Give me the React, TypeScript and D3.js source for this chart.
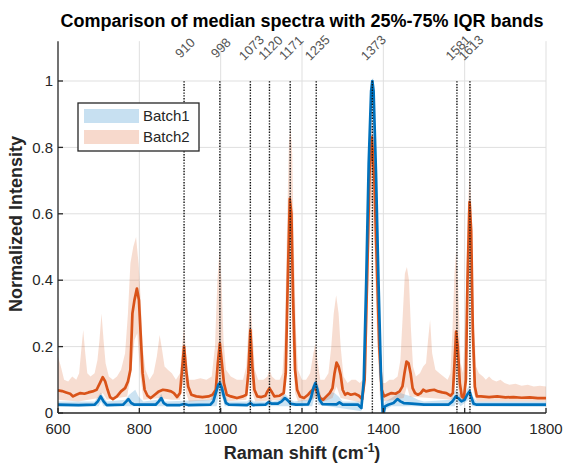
import React from 'react';
import * as d3 from 'd3';

type P = [number, number];

const W = 566, H = 466;
const PLOT = { left: 58, right: 546, top: 40, bottom: 413 };
const X_DOMAIN = [600, 1800];
const Y_DOMAIN = [0, 1.12];

const titleText = 'Comparison of median spectra with 25%-75% IQR bands';
const xTicks = [600, 800, 1000, 1200, 1400, 1600, 1800];
const xTickLabels = ['600', '800', '1000', '1200', '1400', '1600', '1800'];
const yTicks = [0, 0.2, 0.4, 0.6, 0.8, 1];
const yTickLabels = ['0', '0.2', '0.4', '0.6', '0.8', '1'];
const peakPositions = [910, 998, 1073, 1120, 1171, 1235, 1373, 1581, 1613];
const peakLabels = ['910', '998', '1073', '1120', '1171', '1235', '1373', '1581', '1613'];
const peakLineTop = 1;
const peakLabelY = 1.1;
const seriesNames = ['Batch1', 'Batch2'];
const seriesColors = ['#0072BD', '#D95319'];

// Batch2 (orange) median
const batch2Median: P[] = [
  [600,0.068],[610,0.066],[620,0.062],[630,0.058],[637,0.05],[645,0.055],[655,0.06],[665,0.058],[675,0.062],[685,0.065],
  [695,0.07],[703,0.09],[710,0.108],[716,0.095],[722,0.07],[728,0.048],[735,0.042],[745,0.05],[755,0.065],[765,0.075],
  [772,0.095],[778,0.13],[783,0.3],[788,0.34],[794,0.375],[799,0.34],[804,0.22],[808,0.12],[813,0.07],[820,0.052],
  [828,0.045],[838,0.055],[848,0.065],[858,0.07],[868,0.068],[878,0.065],[885,0.06],[893,0.048],[900,0.06],[905,0.13],
  [910,0.2],[915,0.13],[920,0.08],[928,0.055],[940,0.05],[955,0.048],[970,0.05],[980,0.055],[988,0.07],[993,0.15],
  [998,0.21],[1003,0.15],[1008,0.09],[1015,0.055],[1025,0.05],[1040,0.045],[1055,0.05],[1063,0.055],[1068,0.12],[1073,0.25],
  [1078,0.14],[1083,0.07],[1090,0.05],[1100,0.048],[1110,0.052],[1115,0.065],[1120,0.075],[1125,0.065],[1132,0.05],[1145,0.052],
  [1155,0.06],[1160,0.12],[1165,0.4],[1170,0.645],[1174,0.6],[1178,0.35],[1183,0.13],[1188,0.07],[1195,0.05],[1205,0.045],
  [1215,0.055],[1222,0.065],[1230,0.075],[1235,0.068],[1240,0.058],[1245,0.045],[1252,0.04],[1260,0.05],[1268,0.06],[1275,0.075],
  [1280,0.12],[1285,0.152],[1290,0.14],[1295,0.115],[1300,0.07],[1306,0.055],[1312,0.06],[1320,0.055],[1330,0.058],[1340,0.052],
  [1348,0.042],[1354,0.1],[1360,0.4],[1366,0.72],[1372,0.83],[1378,0.7],[1384,0.45],[1390,0.2],[1396,0.07],[1402,0.05],
  [1410,0.055],[1420,0.06],[1430,0.058],[1440,0.065],[1447,0.08],[1452,0.12],[1457,0.155],[1462,0.15],[1467,0.12],[1472,0.075],
  [1478,0.06],[1485,0.055],[1492,0.06],[1498,0.07],[1505,0.065],[1515,0.068],[1525,0.07],[1535,0.065],[1545,0.062],[1555,0.06],
  [1565,0.052],[1571,0.06],[1575,0.15],[1579,0.245],[1583,0.2],[1588,0.09],[1593,0.05],[1598,0.045],[1603,0.1],[1607,0.4],
  [1612,0.635],[1616,0.55],[1620,0.25],[1625,0.08],[1630,0.05],[1640,0.05],[1660,0.048],[1680,0.05],[1700,0.047],[1720,0.048],
  [1740,0.046],[1760,0.047],[1780,0.045],[1800,0.045],
];

const batch2Upper: P[] = [
  [600,0.17],[607,0.14],[615,0.1],[625,0.095],[635,0.11],[645,0.1],[652,0.12],[658,0.2],[662,0.25],[667,0.18],
  [672,0.12],[680,0.11],[690,0.12],[697,0.16],[702,0.22],[707,0.3],[712,0.22],[717,0.15],[725,0.11],[735,0.1],
  [745,0.11],[755,0.13],[765,0.18],[772,0.3],[778,0.45],[785,0.5],[792,0.53],[798,0.45],[803,0.35],[808,0.2],
  [815,0.13],[825,0.1],[835,0.12],[843,0.17],[850,0.235],[856,0.19],[862,0.14],[870,0.13],[880,0.12],[890,0.1],
  [900,0.12],[905,0.2],[910,0.26],[915,0.18],[922,0.1],[935,0.1],[950,0.105],[965,0.1],[978,0.11],[986,0.2],
  [992,0.4],[997,0.49],[1002,0.4],[1007,0.22],[1013,0.13],[1025,0.11],[1040,0.1],[1055,0.1],[1063,0.14],[1068,0.25],
  [1073,0.34],[1078,0.25],[1084,0.13],[1092,0.1],[1105,0.1],[1115,0.11],[1120,0.13],[1126,0.11],[1135,0.1],[1145,0.1],
  [1152,0.12],[1158,0.25],[1163,0.55],[1168,0.82],[1172,0.86],[1176,0.78],[1180,0.5],[1185,0.25],[1190,0.13],[1200,0.1],
  [1210,0.1],[1220,0.12],[1228,0.18],[1233,0.21],[1238,0.16],[1245,0.1],[1255,0.1],[1265,0.12],[1272,0.2],[1278,0.3],
  [1284,0.355],[1290,0.3],[1295,0.2],[1302,0.11],[1312,0.09],[1322,0.1],[1332,0.1],[1342,0.09],[1350,0.1],[1356,0.25],
  [1362,0.6],[1368,0.84],[1373,0.88],[1379,0.74],[1385,0.5],[1391,0.22],[1398,0.09],[1405,0.09],[1415,0.1],[1425,0.1],
  [1435,0.11],[1442,0.16],[1448,0.3],[1453,0.42],[1458,0.44],[1463,0.4],[1468,0.25],[1473,0.14],[1480,0.11],[1490,0.12],
  [1498,0.14],[1505,0.15],[1510,0.22],[1515,0.28],[1520,0.18],[1528,0.13],[1538,0.12],[1548,0.11],[1558,0.1],[1565,0.12],
  [1570,0.25],[1575,0.42],[1579,0.49],[1584,0.38],[1590,0.15],[1596,0.12],[1602,0.3],[1607,0.6],[1612,0.72],[1617,0.62],
  [1622,0.3],[1628,0.14],[1635,0.12],[1645,0.11],[1652,0.1],[1660,0.11],[1668,0.1],[1678,0.095],[1688,0.1],[1698,0.09],
  [1710,0.085],[1725,0.088],[1740,0.082],[1755,0.085],[1770,0.08],[1785,0.082],[1800,0.08],
];

const batch2Lower: P[] = [
  [600,0.04],[650,0.035],[700,0.045],[710,0.06],[720,0.04],[770,0.05],[780,0.12],[788,0.22],[795,0.24],[802,0.12],
  [810,0.04],[850,0.045],[880,0.04],[900,0.04],[906,0.08],[910,0.11],[915,0.06],[922,0.035],[985,0.04],[992,0.08],
  [998,0.11],[1004,0.06],[1010,0.035],[1063,0.04],[1068,0.08],[1073,0.13],[1078,0.06],[1085,0.035],[1155,0.04],[1162,0.15],
  [1168,0.4],[1172,0.42],[1177,0.2],[1183,0.06],[1190,0.035],[1225,0.04],[1235,0.05],[1245,0.03],[1275,0.045],[1285,0.08],
  [1295,0.045],[1350,0.03],[1358,0.12],[1364,0.45],[1371,0.65],[1378,0.5],[1385,0.22],[1392,0.04],[1400,0.035],[1450,0.045],
  [1458,0.08],[1465,0.05],[1570,0.04],[1576,0.09],[1580,0.11],[1586,0.05],[1595,0.035],[1603,0.08],[1608,0.3],[1612,0.42],
  [1617,0.3],[1622,0.06],[1630,0.035],[1800,0.035],
];

// Batch1 (blue) median
const batch1Median: P[] = [
  [600,0.025],[650,0.024],[690,0.025],[698,0.035],[705,0.05],[712,0.035],[720,0.024],[760,0.025],[768,0.035],[773,0.042],
  [780,0.03],[788,0.025],[840,0.025],[848,0.035],[854,0.045],[860,0.03],[868,0.024],[900,0.024],[910,0.027],[920,0.024],
  [975,0.025],[982,0.035],[988,0.06],[994,0.085],[998,0.09],[1003,0.075],[1008,0.05],[1013,0.03],[1020,0.025],[1065,0.024],
  [1073,0.03],[1080,0.024],[1110,0.025],[1118,0.033],[1125,0.028],[1140,0.028],[1150,0.035],[1158,0.045],[1165,0.038],[1172,0.028],
  [1185,0.025],[1215,0.026],[1222,0.045],[1228,0.075],[1233,0.09],[1238,0.07],[1243,0.04],[1250,0.027],[1285,0.026],[1292,0.032],
  [1300,0.025],[1338,0.025],[1346,0.015],[1352,0.1],[1358,0.4],[1364,0.75],[1370,0.97],[1373,1.0],[1376,0.97],[1382,0.72],
  [1388,0.4],[1394,0.12],[1399,-0.012],[1404,0.02],[1412,0.025],[1425,0.03],[1435,0.042],[1442,0.035],[1450,0.03],[1470,0.028],
  [1500,0.025],[1560,0.025],[1570,0.035],[1578,0.05],[1584,0.045],[1592,0.035],[1600,0.04],[1606,0.055],[1612,0.065],[1617,0.045],
  [1622,0.028],[1630,0.025],[1700,0.025],[1800,0.025],
];

const batch1Upper: P[] = [
  [600,0.035],[690,0.035],[705,0.062],[720,0.035],[765,0.04],[775,0.055],[790,0.07],[798,0.05],[810,0.035],[845,0.04],
  [854,0.058],[862,0.035],[975,0.04],[985,0.07],[995,0.1],[1002,0.1],[1010,0.06],[1018,0.035],[1065,0.035],[1073,0.045],
  [1080,0.035],[1115,0.035],[1120,0.045],[1128,0.035],[1145,0.04],[1158,0.058],[1168,0.045],[1180,0.035],[1215,0.04],[1225,0.08],
  [1233,0.105],[1240,0.085],[1248,0.045],[1258,0.05],[1268,0.065],[1280,0.06],[1290,0.05],[1300,0.035],[1340,0.035],[1348,0.03],
  [1354,0.13],[1360,0.45],[1366,0.8],[1371,1.0],[1375,1.01],[1380,0.85],[1386,0.5],[1392,0.17],[1398,0.02],[1405,0.035],
  [1420,0.045],[1432,0.055],[1442,0.06],[1455,0.055],[1470,0.05],[1485,0.04],[1500,0.035],[1565,0.04],[1578,0.07],[1586,0.06],
  [1595,0.045],[1605,0.07],[1612,0.085],[1620,0.05],[1630,0.035],[1800,0.035],
];

const batch1Lower: P[] = [
  [600,0.018],[700,0.02],[706,0.035],[712,0.02],[990,0.02],[996,0.06],[1003,0.05],[1010,0.02],[1225,0.02],[1233,0.06],
  [1240,0.025],[1346,0.005],[1358,0.3],[1365,0.65],[1372,0.9],[1378,0.8],[1385,0.35],[1392,0.07],[1399,-0.02],[1405,0.01],
  [1420,0.02],[1575,0.02],[1580,0.035],[1590,0.02],[1610,0.04],[1618,0.02],[1800,0.018],
];

const medians = [batch1Median, batch2Median];
const uppers = [batch1Upper, batch2Upper];
const lowers = [batch1Lower, batch2Lower];

export default function App() {
  const x = d3.scaleLinear().domain(X_DOMAIN).range([PLOT.left, PLOT.right]);
  const yTop = PLOT.bottom - (Y_DOMAIN[1] - Y_DOMAIN[0]) * 332;
  const y = d3.scaleLinear().domain(Y_DOMAIN).range([PLOT.bottom, yTop]);
  const line = d3.line<P>().x(d => x(d[0])).y(d => y(d[1]));
  const band = (up: P[], lo: P[]) => (line([...up, ...lo.slice().reverse()]) || '') + 'Z';

  const axisColor = '#262626';
  const gridColor = '#dfdfdf';
  const font = 'Liberation Sans, Arial, Helvetica, sans-serif';

  return (
    <svg width={W} height={H} style={{ position: 'absolute', left: 0, top: 0, background: '#fff' }} fontFamily={font}>
      <defs>
        <clipPath id="plotClip">
          <rect x={PLOT.left} y={yTop} width={PLOT.right - PLOT.left} height={PLOT.bottom - yTop} />
        </clipPath>
      </defs>
      <rect x={0} y={0} width={W} height={H} fill="#fff" />
      {/* grid */}
      <g stroke={gridColor} strokeWidth={1}>
        {xTicks.slice(1).map(t => (
          <line key={'gx' + t} x1={x(t)} x2={x(t)} y1={yTop} y2={PLOT.bottom} />
        ))}
        {yTicks.slice(1).map(t => (
          <line key={'gy' + t} x1={PLOT.left} x2={PLOT.right} y1={y(t)} y2={y(t)} />
        ))}
      </g>
      <g clipPath="url(#plotClip)">
        {[0, 1].map(i => (
          <path key={'band' + i} d={band(uppers[i], lowers[i])} fill={seriesColors[i]} fillOpacity={0.2} stroke="none" />
        ))}
        {[1, 0].map(i => (
          <path key={'med' + i} d={line(medians[i]) || ''} fill="none" stroke={seriesColors[i]} strokeWidth={2.7} strokeLinejoin="round" />
        ))}
      </g>
      {/* peak markers */}
      <g>
        {peakPositions.map((p, i) => (
          <g key={'pk' + p}>
            <line x1={x(p)} x2={x(p)} y1={y(0)} y2={y(peakLineTop)} stroke="#111" strokeWidth={1.4} strokeDasharray="1.4 1.4" />
            <text
              transform={`translate(${x(p) + 1},${y(peakLabelY)}) rotate(-45)`}
              textAnchor="middle"
              dominantBaseline="central"
              fontSize={13}
              fill="#555"
            >{peakLabels[i]}</text>
          </g>
        ))}
      </g>
      {/* axes */}
      <g stroke={axisColor} strokeWidth={1.3}>
        <line x1={PLOT.left} x2={PLOT.right} y1={PLOT.bottom} y2={PLOT.bottom} />
        <line x1={PLOT.left} x2={PLOT.left} y1={PLOT.bottom} y2={yTop} />
        {xTicks.map(t => (
          <line key={'tx' + t} x1={x(t)} x2={x(t)} y1={PLOT.bottom} y2={PLOT.bottom - 5} />
        ))}
        {yTicks.map(t => (
          <line key={'ty' + t} x1={PLOT.left} x2={PLOT.left + 5} y1={y(t)} y2={y(t)} />
        ))}
      </g>
      <g fontSize={15} fill={axisColor}>
        {xTicks.map((t, i) => (
          <text key={'lx' + t} x={x(t)} y={434} textAnchor="middle">{xTickLabels[i]}</text>
        ))}
        {yTicks.map((t, i) => (
          <text key={'ly' + t} x={PLOT.left - 5} y={y(t)} dy="0.35em" textAnchor="end">{yTickLabels[i]}</text>
        ))}
      </g>
      {/* title & labels */}
      <text x={(PLOT.left + PLOT.right) / 2} y={27} textAnchor="middle" fontSize={18} fontWeight="bold" fill="#000">{titleText}</text>
      <text x={(PLOT.left + PLOT.right) / 2} y={459} textAnchor="middle" fontSize={18} fontWeight="bold" fill={axisColor}>
        Raman shift (cm<tspan dy={-7} fontSize={12}>-1</tspan><tspan dy={7}>)</tspan>
      </text>
      <text transform={`translate(22,${(yTop + PLOT.bottom) / 2 - 3}) rotate(-90)`} textAnchor="middle" fontSize={18} fontWeight="bold" fill={axisColor}>Normalized Intensity</text>
      {/* legend */}
      <g>
        <rect x={78} y={103} width={121} height={48} fill="#fff" stroke={axisColor} strokeWidth={1.3} />
        {seriesNames.map((n, i) => (
          <g key={'lg' + n}>
            <rect x={84} y={109 + i * 21} width={55} height={14} fill={seriesColors[i]} fillOpacity={0.22} />
            <text x={143} y={121 + i * 21} fontSize={15} fill={axisColor}>{n}</text>
          </g>
        ))}
      </g>
    </svg>
  );
}
